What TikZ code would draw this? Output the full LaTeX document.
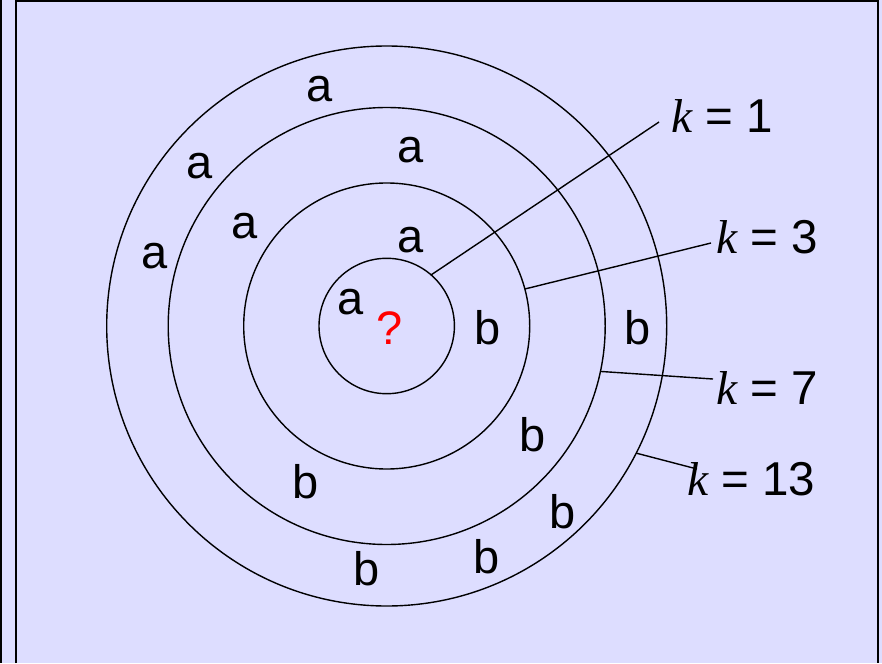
\documentclass[tikz,border=0pt]{standalone}
\usepackage{fontspec}
\setmainfont{Liberation Sans}
\newfontfamily\kfont{Liberation Serif}
\definecolor{bgpanel}{RGB}{221,221,255}

\begin{document}
\begin{tikzpicture}[
  x=1pt, y=-1pt,
  ring/.style={draw, circle, line width=1.4pt, inner sep=0pt, outer sep=0pt},
  sym/.style={inner sep=0pt, font=\fontsize{47}{50}\selectfont},
  klabel/.style={anchor=base west, inner sep=0pt, font=\fontsize{47.5}{50}\selectfont},
  lead/.style={line width=1.4pt},
  frame/.style={line width=2.2pt}
]
\useasboundingbox[fill=bgpanel] (0,0) rectangle (882,663);
\draw[frame] (1,0) -- (1,663);
\draw[frame] (16,663) -- (16,1) -- (878,1) -- (878,663);

% nested neighbourhoods
\coordinate (c) at (386.7,326);
\node[ring, minimum size=135.4pt] (r1) at (c) {};
\node[ring, minimum size=286pt] (r3) at (c) {};
\node[ring, minimum size=437pt] (r7) at (c) {};
\node[ring, minimum size=560pt] (r13) at (c) {};

% class labels
\node[sym, text=red] (q) at (390,328) {?};
\node[sym] (a1) at (351,302) {a};
\node[sym] (a2) at (411,240) {a};
\node[sym] (a3) at (411,150) {a};
\node[sym] (a4) at (245,226) {a};
\node[sym] (a5) at (320,89) {a};
\node[sym] (a6) at (200,166) {a};
\node[sym] (a7) at (155,256) {a};
\node[sym] (b1) at (488,328) {b};
\node[sym] (b2) at (533,435) {b};
\node[sym] (b3) at (306,482) {b};
\node[sym] (b4) at (638,328) {b};
\node[sym] (b5) at (563,512) {b};
\node[sym] (b6) at (487,557) {b};
\node[sym] (b7) at (367,569) {b};

% k labels
\node[klabel] (k1) at (671,133) {{\kfont\itshape k} = 1};
\node[klabel] (k3) at (716,253) {{\kfont\itshape k} = 3};
\node[klabel] (k7) at (716,404) {{\kfont\itshape k} = 7};
\node[klabel] (k13) at (687,495) {{\kfont\itshape k} = 13};

\coordinate (e1) at (659,122);
\coordinate (e3) at (711,243);
\coordinate (e7) at (713,379);
\coordinate (e13) at (697,469);

\draw[lead] (r1.49) -- (e1);
\draw[lead] (r3.15) -- (e3);
\draw[lead] (r7.-12) -- (e7);
\draw[lead] (r13.-27.4) -- (e13);
\end{tikzpicture}
\end{document}
